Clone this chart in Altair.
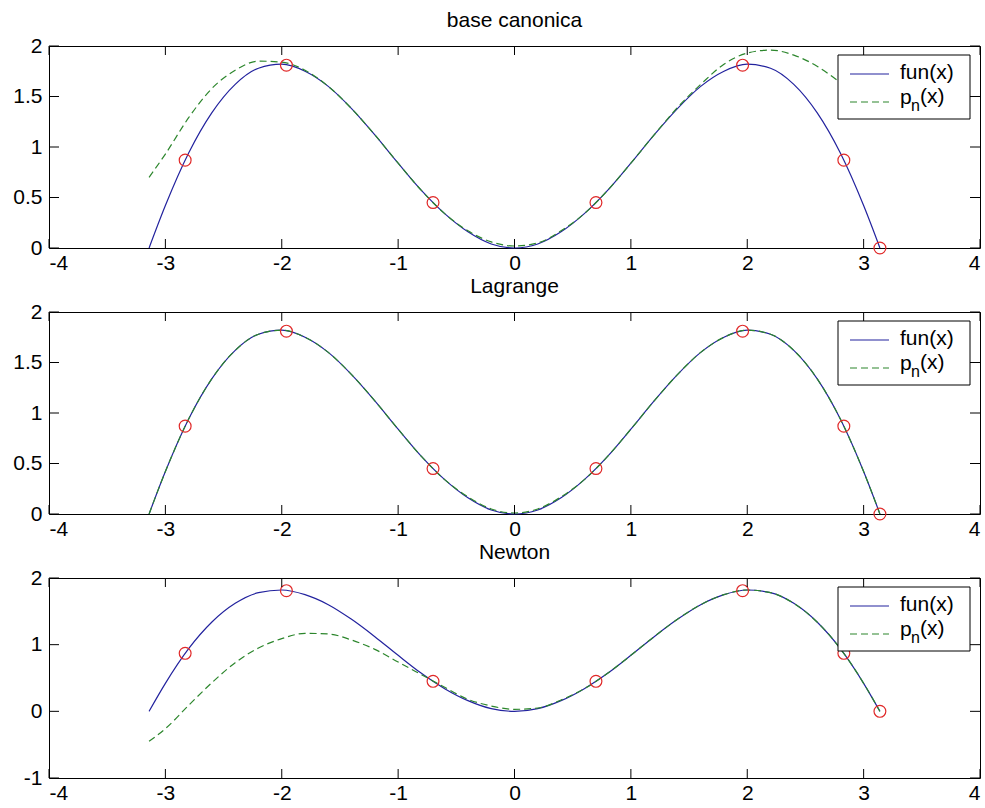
import altair as alt
import pandas as pd

# abscissae where every curve is sampled
xs = [-3.14, -3.0, -2.8, -2.6, -2.4, -2.2, -2.0, -1.8, -1.6, -1.4, -1.2, -1.0,
      -0.8, -0.6, -0.4, -0.2, 0.0, 0.2, 0.4, 0.6, 0.8, 1.0, 1.2, 1.4, 1.6, 1.8,
      2.0, 2.2, 2.4, 2.6, 2.8, 3.0, 3.14]

# target function fun(x)
fun_y = [0.00, 0.42, 0.94, 1.34, 1.62, 1.78, 1.82, 1.75, 1.60, 1.38, 1.12, 0.84,
         0.57, 0.34, 0.16, 0.04, 0.00, 0.04, 0.16, 0.34, 0.57, 0.84, 1.12, 1.38,
         1.60, 1.75, 1.82, 1.78, 1.62, 1.34, 0.94, 0.42, 0.00]

# interpolating polynomial p_n(x), monomial (canonical) basis
canon_y = [0.70, 0.93, 1.29, 1.58, 1.76, 1.85, 1.84, 1.76, 1.60, 1.38, 1.12, 0.84,
           0.57, 0.34, 0.17, 0.06, 0.02, 0.05, 0.17, 0.34, 0.57, 0.84, 1.12, 1.39,
           1.62, 1.82, 1.93, 1.96, 1.91, 1.80, 1.64, 1.48, 1.35]

# p_n(x), Lagrange form
lagr_y = [0.00, 0.42, 0.94, 1.34, 1.62, 1.78, 1.82, 1.75, 1.60, 1.38, 1.12, 0.84,
          0.57, 0.34, 0.17, 0.05, 0.01, 0.05, 0.17, 0.34, 0.57, 0.84, 1.12, 1.38,
          1.60, 1.75, 1.82, 1.78, 1.62, 1.34, 0.94, 0.42, 0.00]

# p_n(x), Newton form
newt_y = [-0.45, -0.26, 0.09, 0.43, 0.73, 0.95, 1.09, 1.17, 1.16, 1.07, 0.93, 0.74,
          0.55, 0.36, 0.18, 0.08, 0.03, 0.05, 0.17, 0.34, 0.57, 0.84, 1.12, 1.38,
          1.60, 1.75, 1.82, 1.78, 1.62, 1.34, 0.94, 0.42, 0.00]

# interpolation nodes
node_x = [-2.83, -1.96, -0.70, 0.70, 1.96, 2.83, 3.14]
node_y = [0.87, 1.81, 0.45, 0.45, 1.81, 0.87, 0.00]

x_ticks = [-4, -3, -2, -1, 0, 1, 2, 3, 4]
titles = ["base canonica", "Lagrange", "Newton"]
poly_sets = [canon_y, lagr_y, newt_y]
y_ticks_sets = [[0, 0.5, 1, 1.5, 2], [0, 0.5, 1, 1.5, 2], [-1, 0, 1, 2]]
y_domains = [[0, 2], [0, 2], [-1, 2]]
heights = [202, 202, 200]

FONT = "Liberation Sans"
BLUE = "#22229e"
GREEN = "#2c862c"
RED = "#e02828"
W = 931
TICK = 9

label_expr = "'' + datum.value"


def panel(title, poly_y, y_ticks, y_dom, h):
    xsc = alt.Scale(domain=[-4, 4], nice=False, zero=False)
    ysc = alt.Scale(domain=y_dom, nice=False, zero=False)
    xax = alt.Axis(values=x_ticks, labelExpr=label_expr, title=None)
    yax = alt.Axis(values=y_ticks, labelExpr=label_expr, title=None)
    X = alt.X("x:Q", scale=xsc, axis=xax)
    Y = alt.Y("y:Q", scale=ysc, axis=yax)

    fun_df = pd.DataFrame({"x": xs, "y": fun_y})
    poly_df = pd.DataFrame({"x": xs, "y": poly_y})
    node_df = pd.DataFrame({"x": node_x, "y": node_y})
    xt_df = pd.DataFrame({"x": x_ticks})
    yt_df = pd.DataFrame({"y": y_ticks})
    one = pd.DataFrame({"k": [0]})

    fun_line = alt.Chart(fun_df).mark_line(
        color=BLUE, strokeWidth=1.2, interpolate="monotone"
    ).encode(x=X, y=Y)
    poly_line = alt.Chart(poly_df).mark_line(
        color=GREEN, strokeWidth=1.2, strokeDash=[7, 4], interpolate="monotone"
    ).encode(x=X, y=Y)
    nodes = alt.Chart(node_df).mark_point(
        shape="circle", size=140, color=RED, filled=False, strokeWidth=1.2, opacity=1
    ).encode(x=X, y=Y)

    # inward ticks on all four sides of the box
    tick_style = dict(color="black", strokeWidth=1)
    xt_bot = alt.Chart(xt_df).mark_rule(**tick_style).encode(
        x=X, y=alt.value(h), y2=alt.value(h - TICK))
    xt_top = alt.Chart(xt_df).mark_rule(**tick_style).encode(
        x=X, y=alt.value(0), y2=alt.value(TICK))
    yt_left = alt.Chart(yt_df).mark_rule(**tick_style).encode(
        y=Y, x=alt.value(0), x2=alt.value(TICK + 1))
    yt_right = alt.Chart(yt_df).mark_rule(**tick_style).encode(
        y=Y, x=alt.value(W - TICK - 1), x2=alt.value(W))

    # legend box in the upper right corner
    box = alt.Chart(one).mark_rect(
        fill="white", stroke="black", strokeWidth=1
    ).encode(x=alt.value(789), x2=alt.value(921), y=alt.value(9), y2=alt.value(73))
    key_fun = alt.Chart(one).mark_rule(color=BLUE, strokeWidth=1.2).encode(
        x=alt.value(801), x2=alt.value(840), y=alt.value(28))
    key_poly = alt.Chart(one).mark_rule(
        color=GREEN, strokeWidth=1.2, strokeDash=[7, 4]
    ).encode(x=alt.value(801), x2=alt.value(840), y=alt.value(56))
    txt = dict(align="left", baseline="middle", font=FONT, color="black")
    t_fun = alt.Chart(one).mark_text(fontSize=21, **txt).encode(
        x=alt.value(851), y=alt.value(27), text=alt.value("fun(x)"))
    t_p = alt.Chart(one).mark_text(fontSize=21, **txt).encode(
        x=alt.value(851), y=alt.value(52), text=alt.value("p"))
    t_n = alt.Chart(one).mark_text(fontSize=16, **txt).encode(
        x=alt.value(862), y=alt.value(60), text=alt.value("n"))
    t_x = alt.Chart(one).mark_text(fontSize=21, **txt).encode(
        x=alt.value(871), y=alt.value(51), text=alt.value("(x)"))

    return alt.layer(
        fun_line, poly_line, nodes, xt_bot, xt_top, yt_left, yt_right,
        box, key_fun, key_poly, t_fun, t_p, t_n, t_x
    ).properties(width=W, height=h, title=alt.TitleParams(title))


panels = [panel(t, p, yt, yd, h)
          for t, p, yt, yd, h in zip(titles, poly_sets, y_ticks_sets, y_domains, heights)]

chart = alt.vconcat(*panels, spacing=1).properties(
    padding={"left": 0, "top": 9, "right": 0, "bottom": 0}
).configure_view(
    stroke="black", strokeWidth=1
).configure_axis(
    labelFont=FONT, labelFontSize=21, labelColor="black",
    ticks=False, domain=False, grid=False
).configure_axisX(
    labelPadding=4, minExtent=24, maxExtent=24
).configure_axisY(
    labelPadding=7, minExtent=48, maxExtent=48
).configure_title(
    font=FONT, fontSize=21, fontWeight="normal", color="black",
    anchor="middle", offset=0
)

chart.save("out.html", embed_options={"renderer": "svg", "actions": False})
